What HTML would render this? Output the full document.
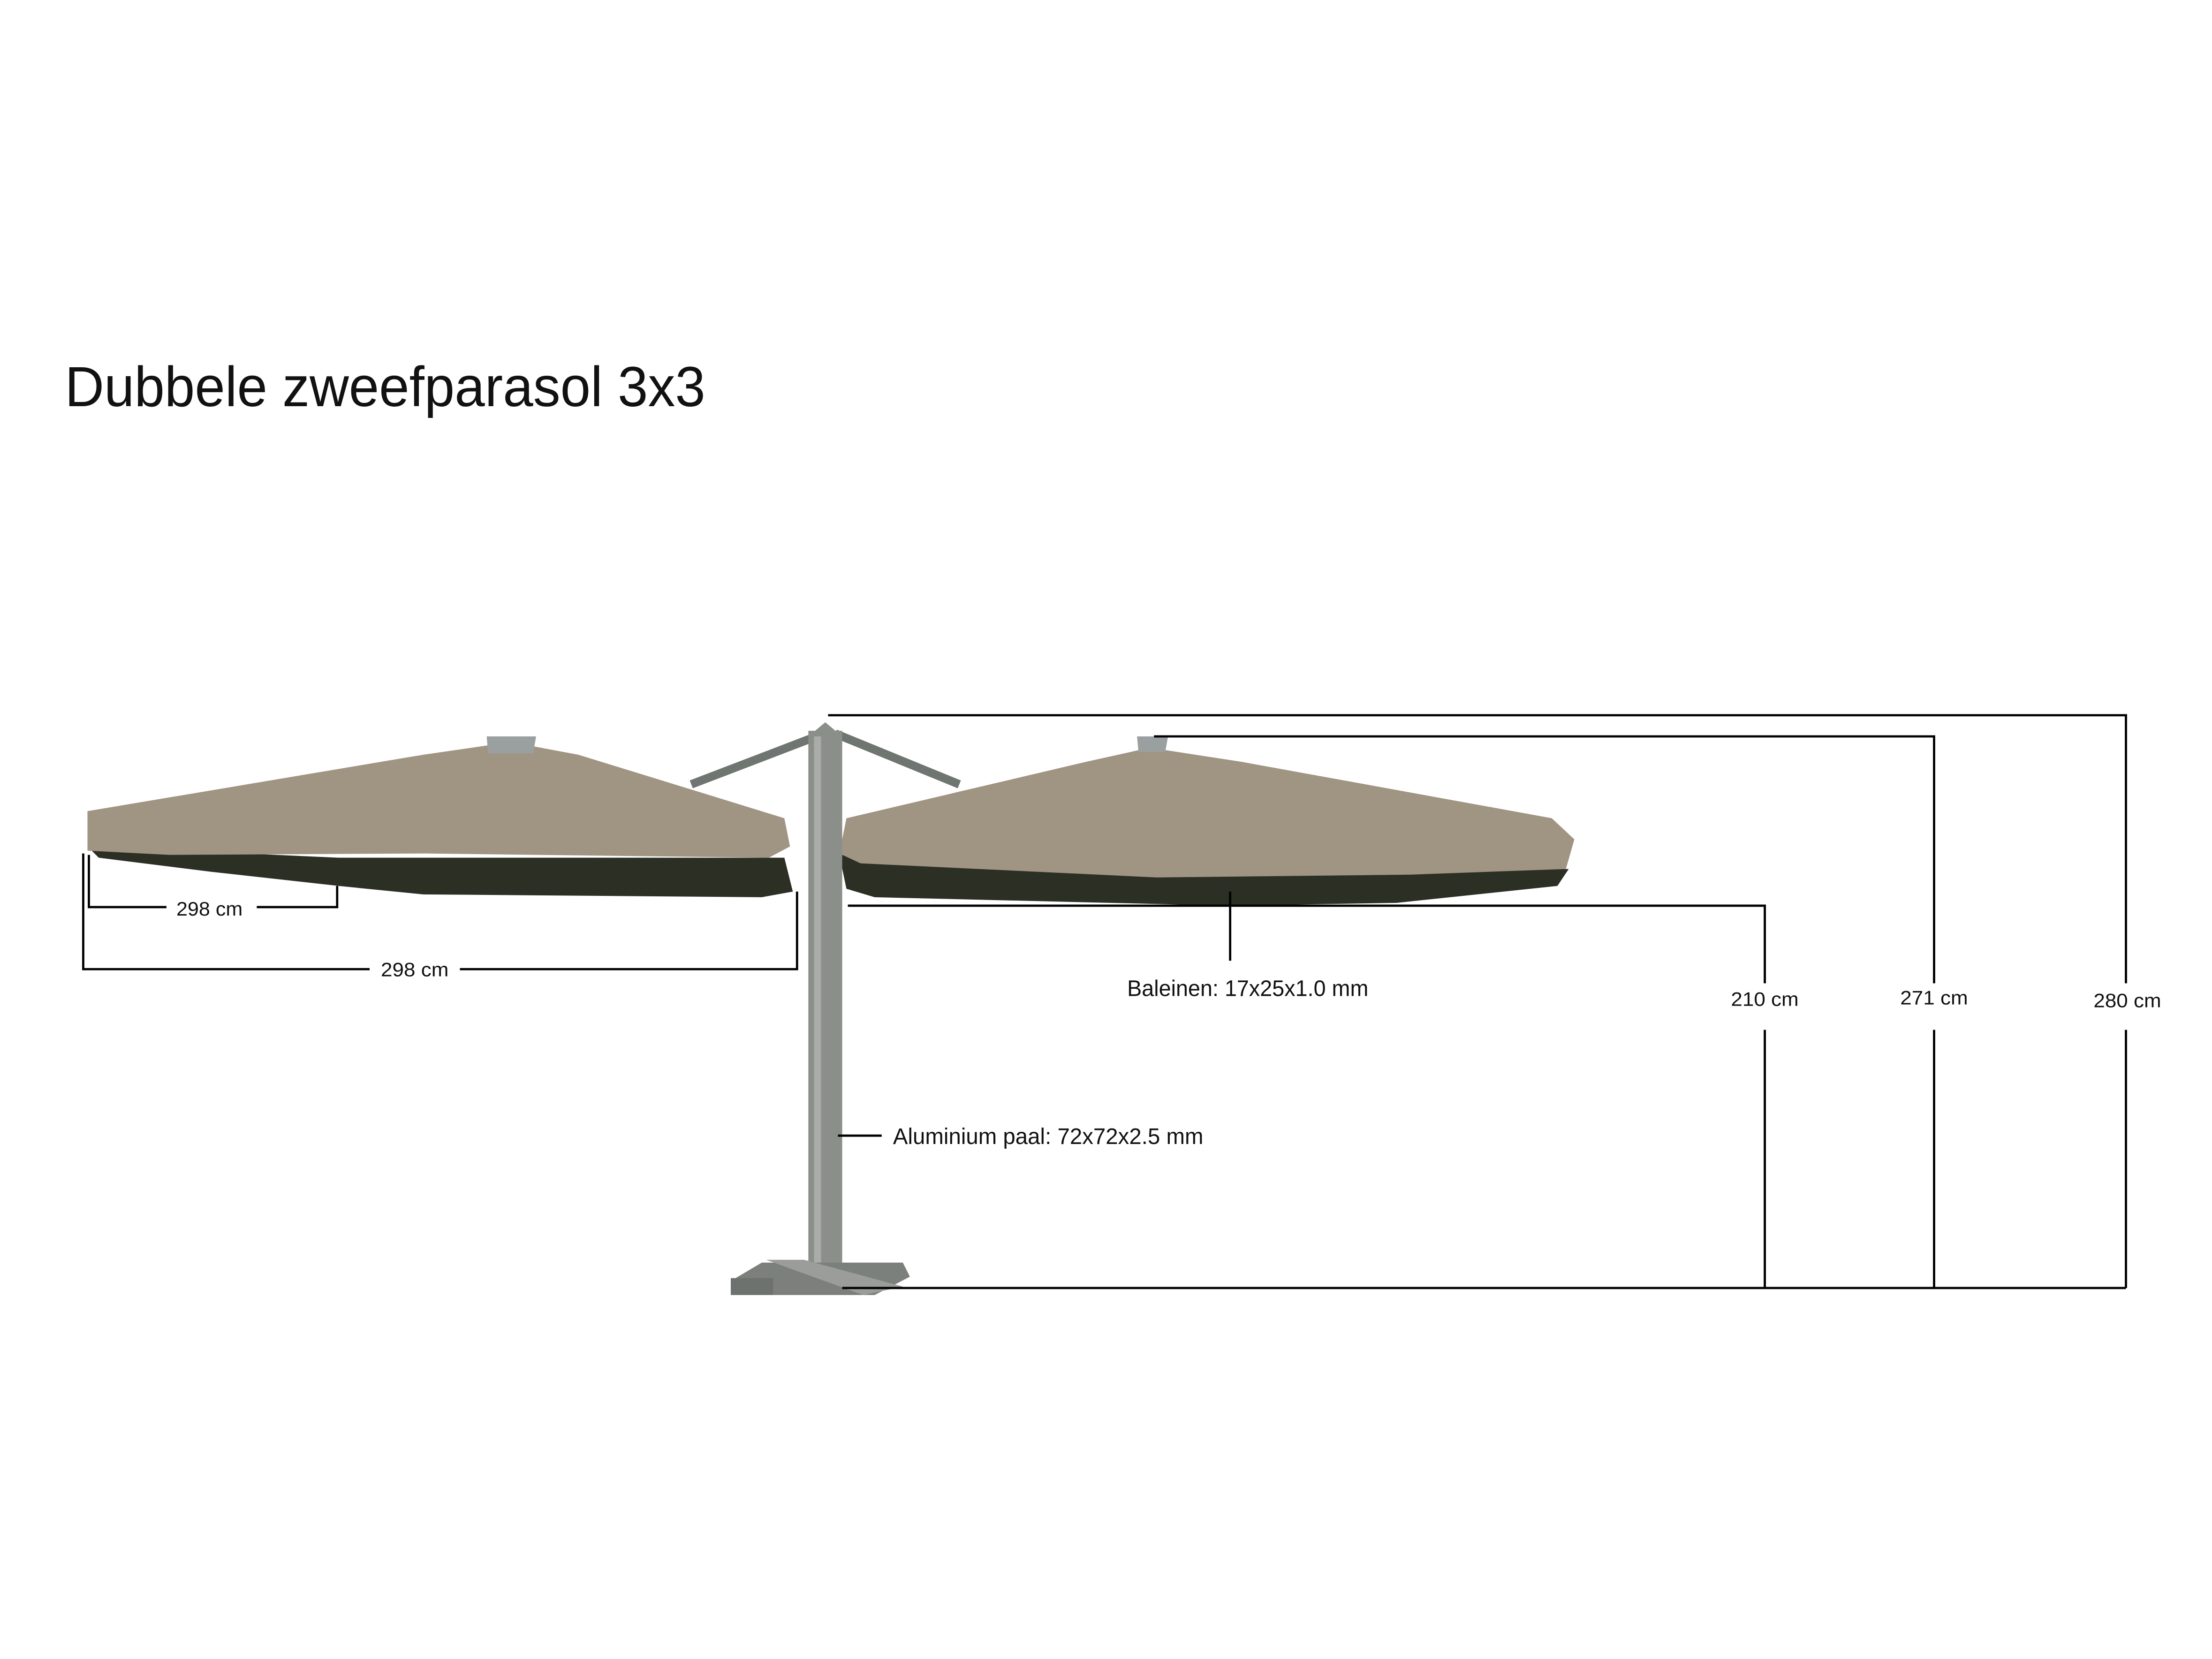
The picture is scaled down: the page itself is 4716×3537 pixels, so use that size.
<!DOCTYPE html>
<html><head><meta charset="utf-8"><style>
html,body{margin:0;padding:0;background:#fff;}
svg{display:block}
text{font-family:"Liberation Sans",sans-serif;fill:#111}
</style></head><body>
<svg width="4716" height="3537" viewBox="0 0 1568 1176" xmlns="http://www.w3.org/2000/svg">
<rect width="1568" height="1176" fill="#fff"/>
<text x="46" y="288" font-size="40" textLength="454" lengthAdjust="spacingAndGlyphs">Dubbele zweefparasol 3x3</text>

<!-- struts -->
<line x1="584" y1="520" x2="490" y2="556" stroke="#6f7570" stroke-width="6"/>
<line x1="592" y1="520" x2="680" y2="556" stroke="#6f7570" stroke-width="6"/>
<!-- left umbrella -->
<polygon points="62,600 240,608 556,608 562,632 540,636 300,634 240,628 150,618 70,608" fill="#2b2f24"/>
<polygon points="362,526 300,535 62,575 62,603 120,606 300,605 545,608 560,600 556,580 410,535" fill="#a09483"/>
<polygon points="345,522 380,522 378,534 346,534" fill="#9aa0a0"/>
<!-- right umbrella -->
<polygon points="595,606 800,618 1112,616 1104,628 990,640 870,642 620,636 600,630" fill="#2b2f24"/>
<polygon points="815,530 770,540 600,580 595,605 610,612 820,622 1000,620 1110,616 1116,595 1100,580 880,540" fill="#a09483"/>
<polygon points="806,522 828,522 826,533 807,533" fill="#9aa0a0"/>
<!-- pole -->
<rect x="573" y="518" width="24" height="385" fill="#8b8f8a"/>
<rect x="577" y="518" width="5" height="385" fill="#a9aca8"/>
<polygon points="573,522 585,512 597,522" fill="#8b8f8a"/>
<!-- base -->
<polygon points="540,895 640,895 645,905 620,918 520,918 518,908" fill="#7c807c"/>
<polygon points="543,893 570,893 640,912 612,918" fill="#9a9d99"/>
<rect x="518" y="906" width="30" height="12" fill="#6e726e"/>

<g stroke="#000" stroke-width="1.6" fill="none">
<polyline points="587,507 1507,507 1507,697"/>
<line x1="1507" y1="730" x2="1507" y2="913"/>
<polyline points="818,522 1371,522 1371,697"/>
<line x1="1371" y1="730" x2="1371" y2="913"/>
<polyline points="601,642 1251,642 1251,697"/>
<line x1="1251" y1="730" x2="1251" y2="913"/>
<line x1="597" y1="913" x2="1507" y2="913"/>
<line x1="872" y1="632" x2="872" y2="681"/>
<line x1="594" y1="805" x2="625" y2="805"/>
<polyline points="63,606 63,643 118,643"/>
<polyline points="182,643 239,643 239,628"/>
<polyline points="59,605 59,687 262,687"/>
<polyline points="326,687 565,687 565,632"/>
</g>
<g font-size="14">
<text x="125" y="649" textLength="47" lengthAdjust="spacingAndGlyphs">298 cm</text>
<text x="270" y="692" textLength="48" lengthAdjust="spacingAndGlyphs">298 cm</text>
<text x="799" y="706" font-size="16" textLength="171" lengthAdjust="spacingAndGlyphs">Baleinen: 17x25x1.0 mm</text>
<text x="633" y="811" font-size="16" textLength="220" lengthAdjust="spacingAndGlyphs">Aluminium paal: 72x72x2.5 mm</text>
<text x="1227" y="713" textLength="48" lengthAdjust="spacingAndGlyphs">210 cm</text>
<text x="1347" y="712" textLength="48" lengthAdjust="spacingAndGlyphs">271 cm</text>
<text x="1484" y="714" textLength="48" lengthAdjust="spacingAndGlyphs">280 cm</text>
</g>
</svg>
</body></html>
